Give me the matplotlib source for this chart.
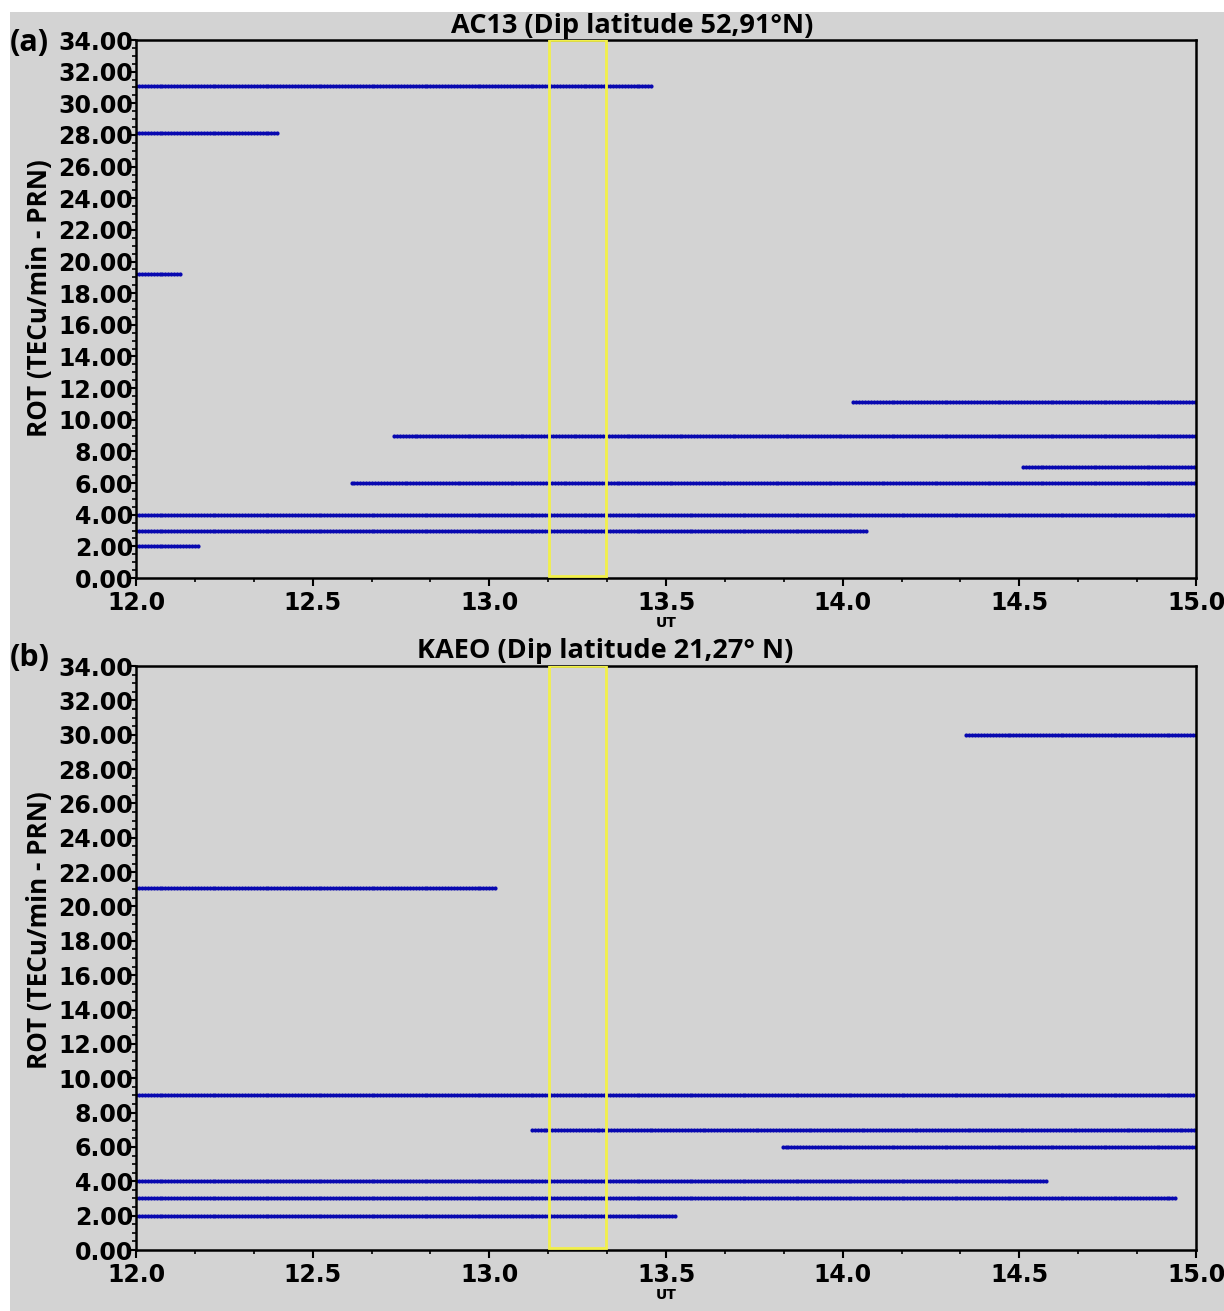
import numpy as np
import matplotlib
matplotlib.use("Agg")
import matplotlib.pyplot as plt
from matplotlib.patches import Rectangle
from matplotlib.ticker import MultipleLocator, FormatStrFormatter

# ROT traces: (level, start UT, end UT)
ac13_levels = [31.1, 28.1, 19.2, 11.1, 9.0, 7.0, 6.0, 4.0, 3.0, 2.0]
ac13_start = [12.0, 12.0, 12.0, 14.03, 12.73, 14.51, 12.61, 12.0, 12.0, 12.0]
ac13_end = [13.46, 12.40, 12.13, 15.0, 15.0, 15.0, 15.0, 15.0, 14.07, 12.18]

kaeo_levels = [30.0, 21.1, 9.0, 7.0, 6.0, 4.0, 3.0, 2.0]
kaeo_start = [14.35, 12.0, 12.0, 13.12, 13.83, 12.0, 12.0, 12.0]
kaeo_end = [15.0, 13.02, 15.0, 15.0, 15.0, 14.58, 14.95, 13.53]

highlight = (13.17, 13.33)  # yellow box, UT
cadence = 1 / 120  # 30 s samples

W, H = 1224, 1311
bg = "#d3d3d3"

fig = plt.figure(figsize=(W / 100, H / 100), dpi=100)
fig.patch.set_facecolor("white")
fig.patches.append(Rectangle((10 / W, 0), 1, 1 - 12 / H, transform=fig.transFigure,
                             facecolor=bg, edgecolor="none", zorder=-10))


def panel(top, bottom, levels, starts, ends):
    ax = fig.add_axes([136 / W, (H - bottom) / H, 1060 / W, (bottom - top) / H])
    ax.set_facecolor(bg)
    for lev, s, e in zip(levels, starts, ends):
        t = np.arange(s, e, cadence)
        ax.plot(t, np.full_like(t, lev), color="#2a2ad8", lw=1.3, marker="o", ms=3.0,
                mfc="#0808b0", mec="none")
    ax.add_patch(Rectangle((highlight[0], 0.1), highlight[1] - highlight[0], 33.9,
                           fill=False, edgecolor="#f2f04a", lw=2, zorder=5))
    ax.set_xlim(12.0, 15.0)
    ax.set_ylim(0, 34)
    ax.xaxis.set_major_locator(MultipleLocator(0.5))
    ax.xaxis.set_minor_locator(MultipleLocator(1 / 6))
    ax.yaxis.set_major_locator(MultipleLocator(2))
    ax.yaxis.set_minor_locator(MultipleLocator(0.5))
    ax.xaxis.set_major_formatter(FormatStrFormatter("%.1f"))
    ax.yaxis.set_major_formatter(FormatStrFormatter("%.2f"))
    ax.tick_params(which="major", length=6, width=1.5, labelsize=17, pad=3)
    ax.tick_params(which="minor", length=3, width=1.2)
    ax.tick_params(axis="y", pad=-4)
    for lab in ax.get_xticklabels() + ax.get_yticklabels():
        lab.set_fontweight("bold")
        lab.set_family("DejaVu Sans")
    for sp in ax.spines.values():
        sp.set_linewidth(1.8)
    ax.set_xlabel("UT", fontsize=10, fontweight="bold", labelpad=1)
    return ax


ax1 = panel(40, 578, ac13_levels, ac13_start, ac13_end)
ax2 = panel(666, 1250, kaeo_levels, kaeo_start, kaeo_end)

tfont = dict(family="Open Sans", fontweight="bold", fontsize=19.5)
fig.text(632 / W, 1 - 26 / H, "AC13 (Dip latitude 52,91°N)", ha="center", va="center", **tfont)
fig.text(605 / W, 1 - 651 / H, "KAEO (Dip latitude 21,27° N)", ha="center", va="center", **tfont)
fig.text(10 / W, 1 - 43 / H, "(a)", ha="left", va="center", family="Open Sans",
         fontweight="bold", fontsize=22)
fig.text(10 / W, 1 - 658 / H, "(b)", ha="left", va="center", family="Open Sans",
         fontweight="bold", fontsize=22)
fig.text(40 / W, 1 - 298 / H, "ROT (TECu/min - PRN)", rotation=90, ha="center", va="center",
         family="Open Sans", fontweight="bold", fontsize=18.7)
fig.text(40 / W, 1 - 930 / H, "ROT (TECu/min - PRN)", rotation=90, ha="center", va="center",
         family="Open Sans", fontweight="bold", fontsize=18.7)

fig.savefig("out.png", dpi=100)
